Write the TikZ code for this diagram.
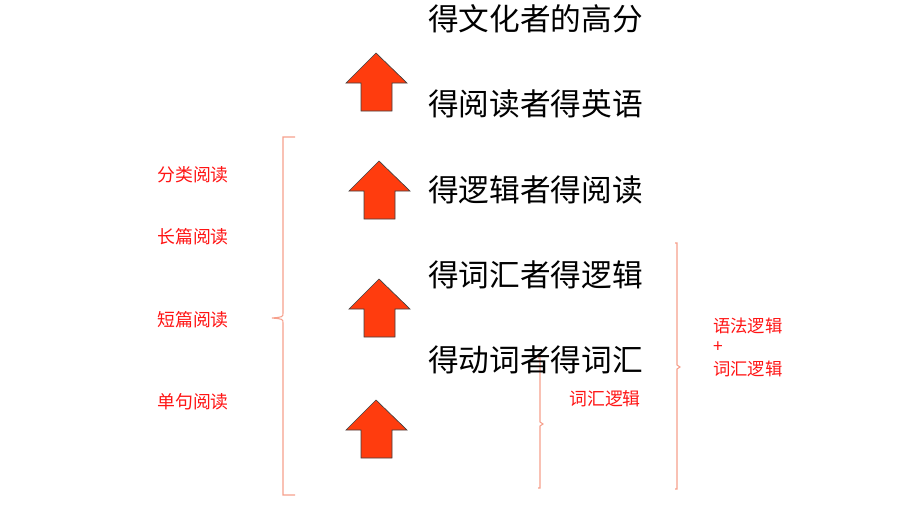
\documentclass[tikz,border=0pt]{standalone}
\usepackage{fontspec}
\setmainfont{Noto Sans CJK SC}
\usetikzlibrary{shapes, positioning}

\definecolor{arrowred}{RGB}{255,60,14}
\definecolor{bracered}{RGB}{246,160,140}
\definecolor{labelred}{RGB}{255,20,20}

\tikzset{
    goal/.style={anchor=west, inner sep=0pt, font=\fontsize{23}{27}\selectfont},
    reading/.style={inner sep=0pt, text=labelred, font=\fontsize{13.4}{16}\selectfont},
    logic/.style={anchor=west, inner sep=0pt, text=labelred, font=\fontsize{13}{16}\selectfont},
    upbox/.style={fill=arrowred, draw=black!75, line width=0.5pt},
    bracket/.style={draw=bracered, line width=0.8pt}
}

\begin{document}
\begin{tikzpicture}[x=0.75pt, y=-0.75pt]
        \useasboundingbox (0, 0) rectangle (920, 518);

        \draw[bracket] (295, 137) -- (283, 137) -- (283, 313)
            .. controls (283, 317) .. (272, 318)
            .. controls (283, 319) .. (283, 323) -- (283, 495) -- (295, 495);
        \draw[bracket] (538, 358) -- (540, 358) -- (540, 422) -- (543, 424)
            -- (540, 426) -- (540, 488) -- (538, 488);
        \draw[bracket] (675, 243) -- (677, 243) -- (677, 365) -- (680, 367)
            -- (677, 369) -- (677, 489) -- (675, 489);

        \node[goal] (score) at (428, 19) {得文化者的高分};
        \node[goal] (english) at (428, 104) {得阅读者得英语};
        \node[goal] (reading) at (428, 190) {得逻辑者得阅读};
        \node[goal] (logic) at (428, 275) {得词汇者得逻辑};
        \node[goal] (vocab) at (428, 360) {得动词者得词汇};

        \foreach \x/\y in {376/53, 379/161, 379/279, 376/400} {
            \draw[upbox] (\x, \y) -- (\x+31, \y+30) -- (\x+16, \y+30)
                -- (\x+16, \y+58) -- (\x-15, \y+58) -- (\x-15, \y+30)
                -- (\x-30, \y+30) -- cycle;
        }

        \node[reading] (sorted) at (193, 175) {分类阅读};
        \node[reading] (long) at (193, 237) {长篇阅读};
        \node[reading] (short) at (193, 320) {短篇阅读};
        \node[reading] (single) at (193, 402) {单句阅读};

        \node[reading] (wordlogic) at (605, 399) {词汇逻辑};

        \node[logic] (grammar) at (713, 326) {语法逻辑};
        \node[logic] (plus) at (713, 347) {+};
        \node[logic] (words) at (713, 369) {词汇逻辑};
    \end{tikzpicture}
\end{document}
